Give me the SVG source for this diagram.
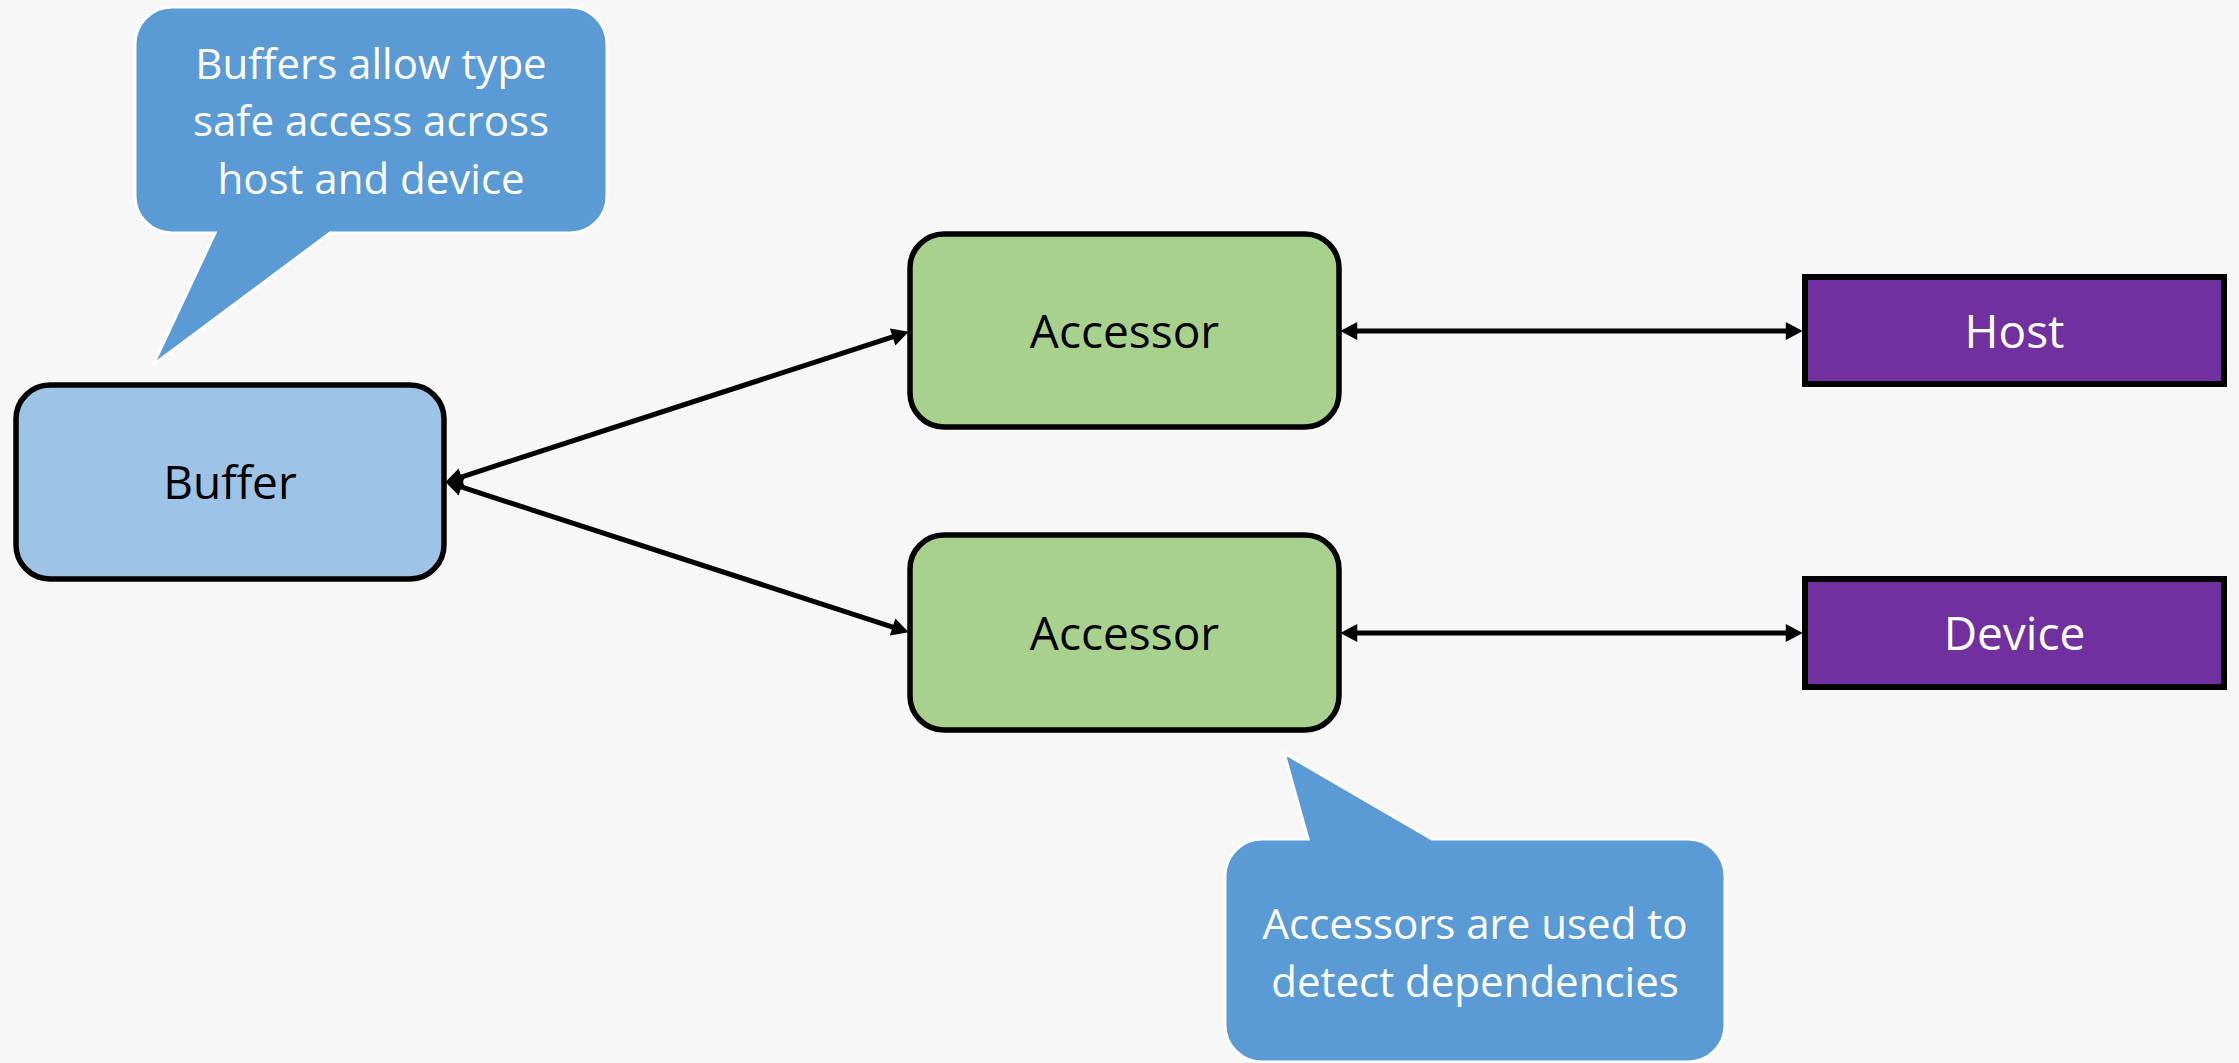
<svg xmlns="http://www.w3.org/2000/svg" width="2239" height="1063" viewBox="0 0 2239 1063">
<style>
.bg{fill:#F7F7F7}
.node{stroke:#000;stroke-width:5.5}
.buffer{fill:#9DC3E6}
.acc{fill:#A9D18E}
.target{fill:#7030A0;stroke-width:6}
.lbl{font-family:"Open Sans","Noto Sans","Liberation Sans",sans-serif;font-size:46px;text-anchor:middle}
.dark{fill:#000}
.light{fill:#FFF}
.callout{fill:#5B9BD5;stroke:#FFF;stroke-width:3;stroke-linejoin:miter}
.ctext{font-family:"Open Sans","Noto Sans","Liberation Sans",sans-serif;font-size:42px;fill:#FFF;text-anchor:middle}
.conn{stroke:#000;stroke-width:5;fill:none;marker-start:url(#ah);marker-end:url(#ah)}
</style>
<defs>
<marker id="ah" markerUnits="userSpaceOnUse" markerWidth="18" markerHeight="18" viewBox="0 0 16 17" refX="4" refY="8.5" orient="auto-start-reverse">
<path d="M0,0 L16,8.5 L0,17 Z" fill="#000"/>
</marker>
</defs>
<rect class="bg" x="0" y="0" width="2239" height="1063"/>

<g id="connectors">
<path class="conn" d="M457.4,478.3 L896.6,335.7"/>
<path class="conn" d="M457.4,485.7 L896.6,628.3"/>
<path class="conn" d="M1353,331 L1790,331"/>
<path class="conn" d="M1353,633 L1790,633"/>
</g>

<g id="buffer">
<rect class="node buffer" x="16" y="385" width="428" height="194" rx="34" ry="34"/>
<text class="lbl dark" x="230" y="499">Buffer</text>
</g>

<g id="accessor-top">
<rect class="node acc" x="910" y="234" width="429" height="193" rx="34" ry="34"/>
<text class="lbl dark" x="1124.5" y="348">Accessor</text>
</g>

<g id="accessor-bottom">
<rect class="node acc" x="910" y="535" width="429" height="195" rx="34" ry="34"/>
<text class="lbl dark" x="1124.5" y="650">Accessor</text>
</g>

<g id="host">
<rect class="node target" x="1805" y="277" width="419" height="107"/>
<text class="lbl light" x="2014.5" y="348">Host</text>
</g>

<g id="device">
<rect class="node target" x="1805" y="579" width="419" height="108"/>
<text class="lbl light" x="2014.5" y="650">Device</text>
</g>

<g id="callout-buffers">
<path class="callout" d="M172,7 H570 A37,37 0 0 1 607,44 V196 A37,37 0 0 1 570,233 H330 L153,365 L215,233 H172 A37,37 0 0 1 135,196 V44 A37,37 0 0 1 172,7 Z"/>
<text class="ctext" x="371" y="79">Buffers allow type</text>
<text class="ctext" x="371" y="136">safe access across</text>
<text class="ctext" x="371" y="194">host and device</text>
</g>

<g id="callout-accessors">
<path class="callout" d="M1262,839 H1308 L1284,753 L1432,839 H1688 A37,37 0 0 1 1725,876 V1025 A37,37 0 0 1 1688,1062 H1262 A37,37 0 0 1 1225,1025 V876 A37,37 0 0 1 1262,839 Z"/>
<text class="ctext" x="1475" y="939">Accessors are used to</text>
<text class="ctext" x="1475" y="997">detect dependencies</text>
</g>
</svg>
